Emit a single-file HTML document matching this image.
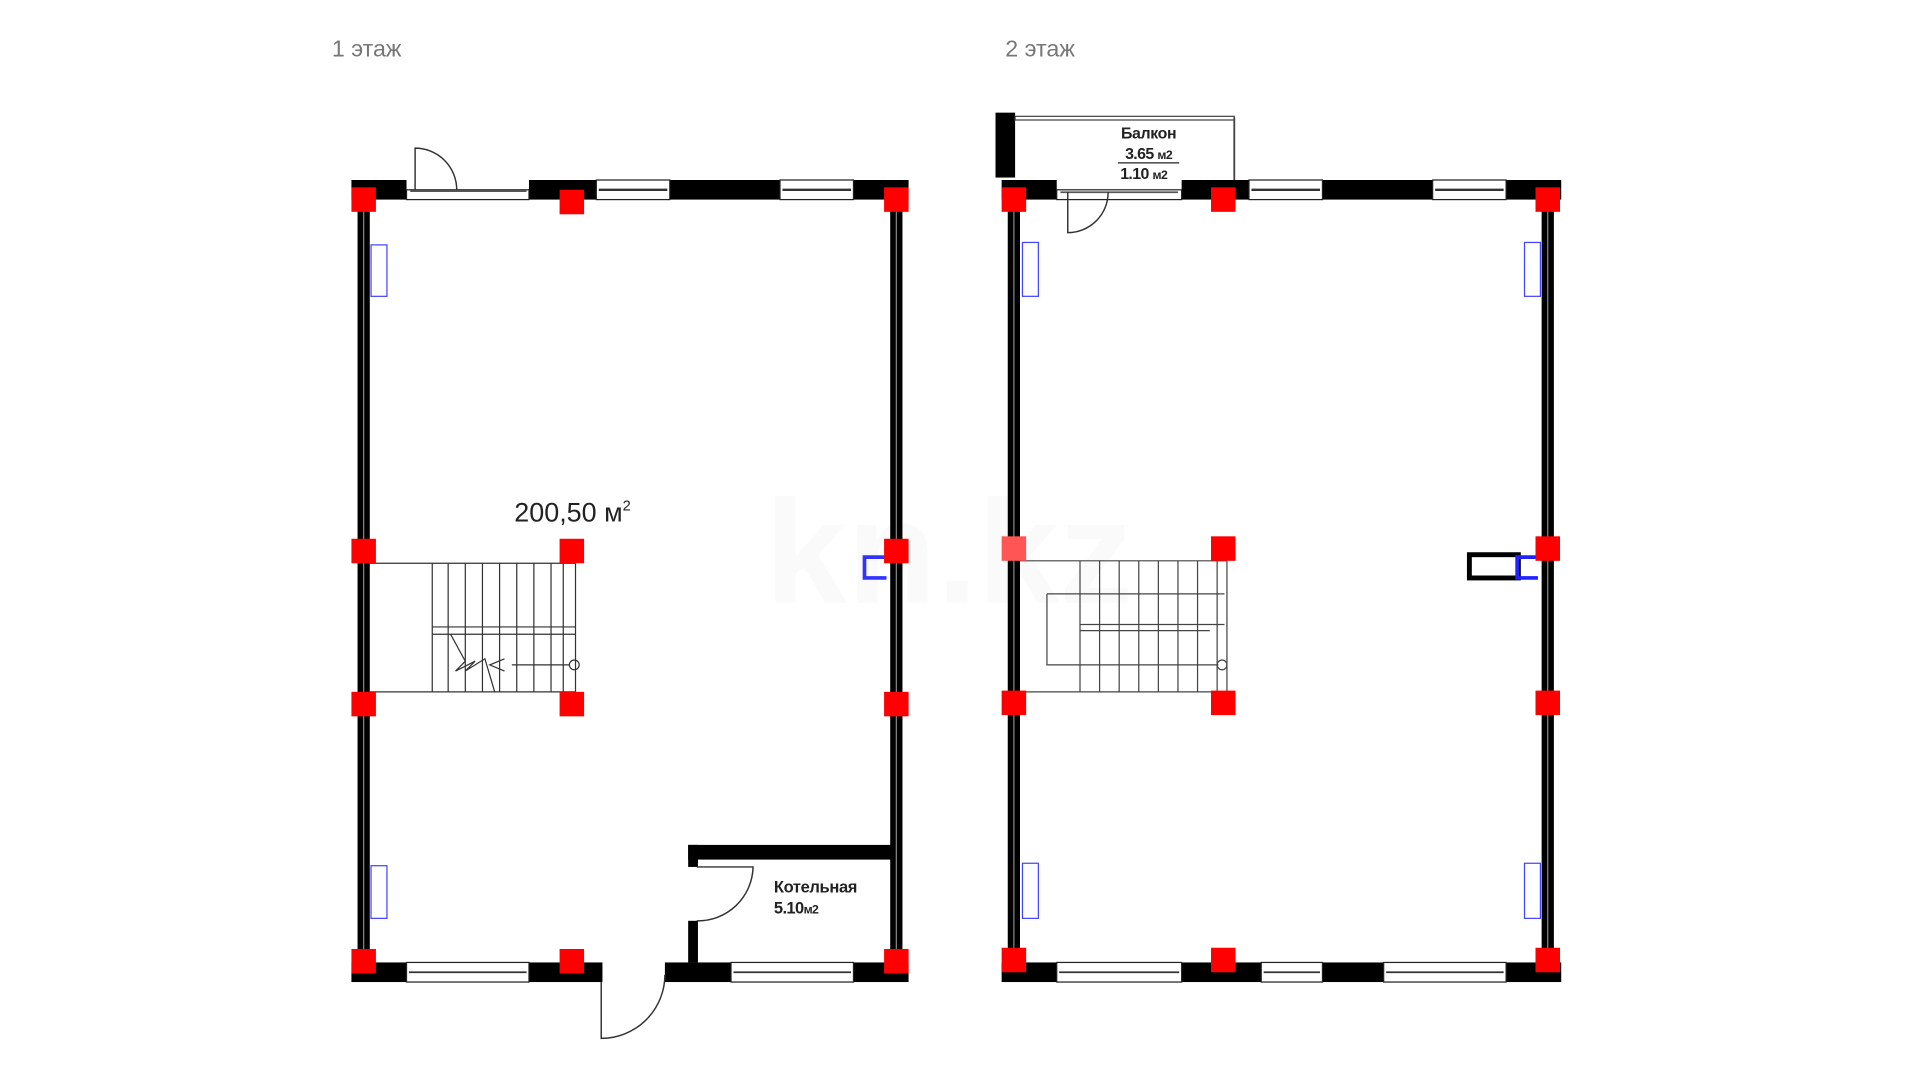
<!DOCTYPE html>
<html><head><meta charset="utf-8"><style>
html,body{margin:0;padding:0;background:#fff;width:1920px;height:1080px;overflow:hidden}
svg{display:block}
text{font-family:"Liberation Sans",sans-serif}
</style></head><body>
<svg width="1920" height="1080" viewBox="0 0 1568 882" preserveAspectRatio="none" xmlns="http://www.w3.org/2000/svg">
<!-- titles -->
<text x="271" y="46" font-size="19" fill="#777">1 этаж</text>
<text x="821" y="46" font-size="19" fill="#777">2 этаж</text>
<!-- watermark -->
<text x="625" y="492" font-size="120" font-weight="bold" fill="#fafafa">kn.kz</text>

<!-- ============ FLOOR 1 ============ -->
<g>
<rect x="292" y="163" width="10" height="623" fill="#000"/>
<line x1="297" y1="163" x2="297" y2="786" stroke="#888" stroke-width="1"/>
<rect x="727" y="163" width="10" height="623" fill="#000"/>
<line x1="732" y1="163" x2="732" y2="786" stroke="#888" stroke-width="1"/>
<g fill="#000">
<rect x="287" y="147" width="45" height="16"/>
<rect x="432" y="147" width="55" height="16"/>
<rect x="547" y="147" width="90" height="16"/>
<rect x="697" y="147" width="45" height="16"/>
</g>
<g fill="#fff" stroke="#222" stroke-width="1">
<rect x="332" y="155" width="100" height="8"/>
<rect x="487" y="147" width="60" height="16"/>
<rect x="637" y="147" width="60" height="16"/>
</g>
<line x1="489" y1="155" x2="545" y2="155" stroke="#333" stroke-width="2"/>
<line x1="639" y1="155" x2="695" y2="155" stroke="#333" stroke-width="2"/>
<line x1="335" y1="156" x2="430" y2="156" stroke="#555" stroke-width="1.5"/>
<path d="M339 155 V121 A34 34 0 0 1 373 155" fill="none" stroke="#333" stroke-width="1.2"/>
<g fill="#000">
<rect x="287" y="786" width="45" height="16"/>
<rect x="432" y="786" width="60" height="16"/>
<rect x="543" y="786" width="54" height="16"/>
<rect x="697" y="786" width="45" height="16"/>
</g>
<g fill="#fff" stroke="#222" stroke-width="1">
<rect x="332" y="786" width="100" height="16"/>
<rect x="597" y="786" width="100" height="16"/>
</g>
<line x1="334" y1="794" x2="430" y2="794" stroke="#333" stroke-width="1.5"/>
<line x1="599" y1="794" x2="695" y2="794" stroke="#333" stroke-width="1.5"/>
<path d="M491 802 V848 A52 52 0 0 0 543 796" fill="none" stroke="#333" stroke-width="1.2"/>
<rect x="562" y="690" width="167" height="12" fill="#000"/>
<rect x="562" y="690" width="8" height="18" fill="#000"/>
<rect x="562" y="752" width="8" height="34" fill="#000"/>
<path d="M569 708 H615 A45 45 0 0 1 569 752" fill="none" stroke="#333" stroke-width="1.2"/>
<text x="632" y="729" font-size="13.5" font-weight="bold" fill="#222" letter-spacing="-0.3">Котельная</text>
<text x="632" y="746" font-size="13.5" font-weight="bold" fill="#222" letter-spacing="-0.5">5.10<tspan font-size="10">м2</tspan></text>
<text x="420" y="426" font-size="22" fill="#222">200,50 м<tspan font-size="12" dy="-9">2</tspan></text>
<g stroke="#333" stroke-width="1" fill="none">
<line x1="302" y1="460" x2="470" y2="460"/>
<line x1="302" y1="565" x2="470" y2="565"/>
<line x1="470" y1="460" x2="470" y2="565"/>
<line x1="353" y1="460" x2="353" y2="565"/>
<line x1="366" y1="460" x2="366" y2="565"/>
<line x1="380" y1="460" x2="380" y2="565"/>
<line x1="394" y1="460" x2="394" y2="565"/>
<line x1="408" y1="460" x2="408" y2="565"/>
<line x1="422" y1="460" x2="422" y2="565"/>
<line x1="436" y1="460" x2="436" y2="565"/>
<line x1="450" y1="460" x2="450" y2="565"/>
<line x1="460" y1="460" x2="460" y2="565"/>
<line x1="353" y1="512" x2="470" y2="512"/>
<line x1="353" y1="518" x2="470" y2="518"/>
<line x1="418" y1="543" x2="465" y2="543"/>
<circle cx="469" cy="543" r="4"/>
<path d="M368 518 L380 540 L372 548 L388 540 L380 548 L396 538 L404 565"/>
<path d="M412 538 L400 543 L412 548"/>
</g>
<rect x="303" y="200" width="13" height="42" fill="none" stroke="#44f" stroke-width="1"/>
<rect x="303" y="707" width="13" height="43" fill="none" stroke="#44f" stroke-width="1"/>
<path d="M724 455 H706 V472 H724" fill="none" stroke="#33f" stroke-width="3"/>
<g fill="#f00">
<rect x="287" y="153" width="20" height="20"/><rect x="457" y="155" width="20" height="20"/><rect x="722" y="153" width="20" height="20"/>
<rect x="287" y="440" width="20" height="20"/><rect x="457" y="440" width="20" height="20"/><rect x="722" y="440" width="20" height="20"/>
<rect x="287" y="565" width="20" height="20"/><rect x="457" y="565" width="20" height="20"/><rect x="722" y="565" width="20" height="20"/>
<rect x="287" y="775" width="20" height="20"/><rect x="457" y="775" width="20" height="20"/><rect x="722" y="775" width="20" height="20"/>
</g>
</g>

<!-- ============ FLOOR 2 ============ -->
<g>
<rect x="823" y="163" width="10" height="623" fill="#000"/>
<line x1="828" y1="163" x2="828" y2="786" stroke="#888" stroke-width="1"/>
<rect x="1259" y="163" width="10" height="623" fill="#000"/>
<line x1="1264" y1="163" x2="1264" y2="786" stroke="#888" stroke-width="1"/>
<rect x="813" y="92" width="16" height="53" fill="#000"/>
<rect x="829" y="95" width="179" height="3" fill="#fff" stroke="#444" stroke-width="1"/>
<line x1="1008" y1="96" x2="1008" y2="150" stroke="#444" stroke-width="1.5"/>
<text x="938" y="113" font-size="13" font-weight="bold" fill="#222" text-anchor="middle" letter-spacing="-0.3">Балкон</text>
<text x="938" y="130" font-size="13" font-weight="bold" fill="#222" text-anchor="middle" letter-spacing="-0.5">3.65 <tspan font-size="10">м2</tspan></text>
<line x1="913" y1="133" x2="963" y2="133" stroke="#222" stroke-width="1"/>
<text x="934" y="146" font-size="13" font-weight="bold" fill="#222" text-anchor="middle" letter-spacing="-0.5">1.10 <tspan font-size="10">м2</tspan></text>
<g fill="#000">
<rect x="818" y="147" width="45" height="16"/>
<rect x="965" y="147" width="55" height="16"/>
<rect x="1080" y="147" width="90" height="16"/>
<rect x="1230" y="147" width="45" height="16"/>
</g>
<g fill="#fff" stroke="#222" stroke-width="1">
<rect x="863" y="155" width="102" height="8"/>
<rect x="1020" y="147" width="60" height="16"/>
<rect x="1170" y="147" width="60" height="16"/>
</g>
<line x1="1022" y1="155" x2="1078" y2="155" stroke="#333" stroke-width="2"/>
<line x1="1172" y1="155" x2="1228" y2="155" stroke="#333" stroke-width="2"/>
<line x1="866" y1="157" x2="962" y2="157" stroke="#555" stroke-width="1.5"/>
<path d="M872 157 V190 A33 33 0 0 0 905 157" fill="none" stroke="#333" stroke-width="1.2"/>
<g fill="#000">
<rect x="818" y="786" width="45" height="16"/>
<rect x="965" y="786" width="65" height="16"/>
<rect x="1080" y="786" width="50" height="16"/>
<rect x="1230" y="786" width="45" height="16"/>
</g>
<g fill="#fff" stroke="#222" stroke-width="1">
<rect x="863" y="786" width="102" height="16"/>
<rect x="1030" y="786" width="50" height="16"/>
<rect x="1130" y="786" width="100" height="16"/>
</g>
<line x1="865" y1="794" x2="963" y2="794" stroke="#333" stroke-width="1.5"/>
<line x1="1032" y1="794" x2="1078" y2="794" stroke="#333" stroke-width="1.5"/>
<line x1="1132" y1="794" x2="1228" y2="794" stroke="#333" stroke-width="1.5"/>
<g stroke="#444" stroke-width="1" fill="none">
<line x1="833" y1="458" x2="1002" y2="458"/>
<line x1="833" y1="565" x2="1002" y2="565"/>
<line x1="1002" y1="458" x2="1002" y2="565"/>
<path d="M882 458 V565 M898 458 V565 M914 458 V565 M930 458 V565 M946 458 V565 M962 458 V565 M978 458 V565 M994 458 V565"/>
<path d="M855 485 H1000 M855 485 V543 H995"/>
<line x1="882" y1="510" x2="1000" y2="510"/>
<line x1="882" y1="515" x2="988" y2="515"/>
<circle cx="998" cy="543" r="4"/>
</g>
<rect x="835" y="198" width="13" height="44" fill="none" stroke="#44f" stroke-width="1"/>
<rect x="1245" y="198" width="13" height="44" fill="none" stroke="#44f" stroke-width="1"/>
<rect x="835" y="705" width="13" height="45" fill="none" stroke="#44f" stroke-width="1"/>
<rect x="1245" y="705" width="13" height="45" fill="none" stroke="#44f" stroke-width="1"/>
<rect x="1200" y="453" width="40" height="19" fill="none" stroke="#000" stroke-width="4"/>
<path d="M1256 455 H1239 V472 H1256" fill="none" stroke="#22f" stroke-width="3"/>
<g fill="#f00">
<rect x="818" y="153" width="20" height="20"/><rect x="989" y="153" width="20" height="20"/><rect x="1254" y="153" width="20" height="20"/>
<rect x="818" y="438" width="20" height="20" fill="#f55"/><rect x="989" y="438" width="20" height="20"/><rect x="1254" y="438" width="20" height="20"/>
<rect x="818" y="564" width="20" height="20"/><rect x="989" y="564" width="20" height="20"/><rect x="1254" y="564" width="20" height="20"/>
<rect x="818" y="774" width="20" height="20"/><rect x="989" y="774" width="20" height="20"/><rect x="1254" y="774" width="20" height="20"/>
</g>
</g>
</svg>
</body></html>
